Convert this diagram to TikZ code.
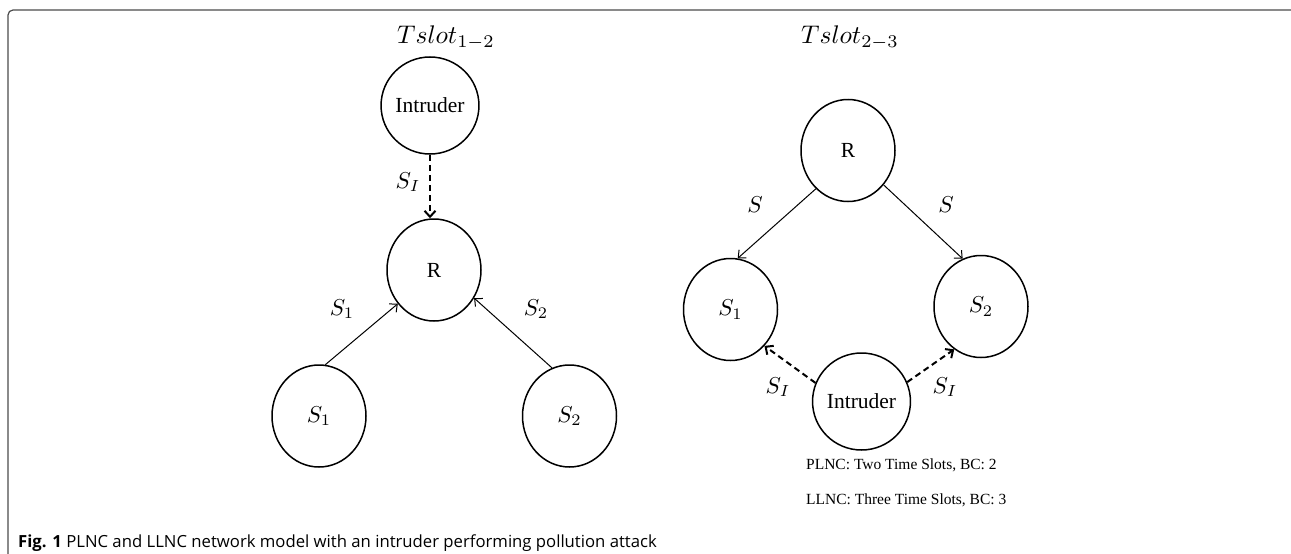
\documentclass[tikz,border=0pt]{standalone}
\usepackage{graphicx}
\usepackage{fontspec}
\setmainfont{Liberation Serif}
\newfontfamily\capfont{Open Sans}
\usetikzlibrary{shapes.geometric,arrows.meta}
\newcommand{\mylabm}[1]{\scalebox{2.3}{\fontsize{10}{12}\selectfont$#1$}}
\newcommand{\mytitm}[1]{\scalebox{2.55}{\fontsize{10}{12}\selectfont$#1$}}
\tikzset{
  nd/.style={ellipse,draw,line width=1.5pt,inner sep=0pt,minimum width=94pt,minimum height=102pt,font=\fontsize{21.5}{24}\selectfont},
  ndi/.style={nd,minimum height=97pt},
  lab/.style={inner sep=0pt},
  solidarr/.style={line width=1pt,-{Straight Barb[length=6pt,width=11pt,line width=1pt]}},
  dasharr/.style={line width=2pt,dash pattern=on 6pt off 4pt,-{Straight Barb[length=6pt,width=11pt,line width=2pt]}},
}
\begin{document}
\begin{tikzpicture}[x=1pt,y=-1pt]
\useasboundingbox (0,0) rectangle (1291,554);
% frame
\draw[black!70,line width=1.2pt,rounded corners=5pt] (8,560) -- (8,10) -- (1296,10);
% titles
\node[lab] (t1) at (446,38) {\mytitm{Tslot_{1-2}}};
\node[lab] (t2) at (850,38) {\mytitm{Tslot_{2-3}}};
% left panel
\node[ndi] (i1) at (430,105.5) {Intruder};
\node[nd] (r1) at (434,270) {R};
\node[nd] (a1) at (319,416) {\mylabm{S_1}};
\node[nd] (b1) at (569.5,416) {\mylabm{S_2}};
\draw[dasharr] (i1.south) -- (i1.south |- r1.north);
\draw[solidarr] (a1.83) -- (r1.223);
\draw[solidarr] (b1.110) -- (r1.325);
\node[lab] (l1) at (408,182) {\mylabm{S_I}};
\node[lab] (l2) at (342,309) {\mylabm{S_1}};
\node[lab] (l3) at (536,309) {\mylabm{S_2}};
% right panel
\node[nd] (r2) at (848,150.5) {R};
\node[nd] (a2) at (730.5,309.5) {\mylabm{S_1}};
\node[nd] (b2) at (981,306.5) {\mylabm{S_2}};
\node[ndi] (i2) at (861.5,401.5) {Intruder};
\draw[solidarr] (r2.230) -- (a2.82);
\draw[solidarr] (r2.316) -- (b2.111);
\draw[dasharr] (i2.158) -- (a2.313);
\draw[dasharr] (i2.23) -- (b2.238);
\node[lab] (l4) at (755,205) {\mylabm{S}};
\node[lab] (l5) at (946,205) {\mylabm{S}};
\node[lab] (l6) at (778,387) {\mylabm{S_I}};
\node[lab] (l7) at (945,387) {\mylabm{S_I}};
\node[inner sep=0pt,anchor=west,font=\fontsize{15.5}{18}\selectfont] (p1) at (806,465) {PLNC: Two Time Slots, BC: 2};
\node[inner sep=0pt,anchor=west,font=\fontsize{15.5}{18}\selectfont] (p2) at (806,500) {LLNC: Three Time Slots, BC: 3};
% caption
\node[inner sep=0pt,anchor=base west,font=\capfont\fontsize{16.7}{20}\selectfont] (cap) at (18,547) {\textbf{Fig. 1} PLNC and LLNC network model with an intruder performing pollution attack};
\end{tikzpicture}
\end{document}
